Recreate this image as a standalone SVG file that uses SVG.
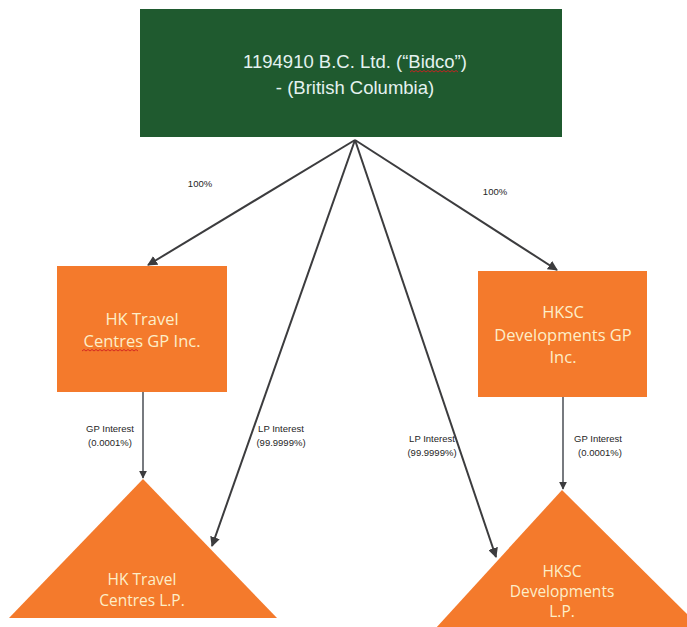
<svg xmlns="http://www.w3.org/2000/svg" width="687" height="627" viewBox="0 0 687 627">
<defs>
<style>
.conn{stroke:#3c3c3e;stroke-width:2;fill:none}
.gp{stroke:#55595f;stroke-width:1.6;fill:none}
.org{fill:#f47a2c}
.ot{font-family:"Open Sans","Liberation Sans",sans-serif;font-size:16.5px;fill:#fdeec8;text-anchor:middle}
.tt{font-size:15.5px}
.gt{font-family:"Liberation Sans",Arial,sans-serif;font-size:18.5px;fill:#e4f2f0;text-anchor:middle}
.lbl{font-family:"Liberation Sans Narrow","Liberation Sans",sans-serif;font-size:9.5px;fill:#262626;text-anchor:middle}
.sq{stroke:#d02020;stroke-width:0.9;fill:none}
</style>
<marker id="ah" viewBox="0 0 10 10" refX="9" refY="5" markerWidth="5" markerHeight="5" orient="auto">
<path d="M0,0 L10,5 L0,10 z" fill="#3c3c3e"/>
</marker>
</defs>
<rect width="687" height="627" fill="#ffffff"/>
<g id="bidco">
<rect x="140" y="9" width="422" height="128" fill="#1f5a2f"/>
<text class="gt" x="355" y="68">1194910 B.C. Ltd. (“Bidco”)</text>
<text class="gt" x="355" y="94">- (British Columbia)</text>
<path class="sq" d="M410,72 l2,-1.5 l2,1.5 l2,-1.5 l2,1.5 l2,-1.5 l2,1.5 l2,-1.5 l2,1.5 l2,-1.5 l2,1.5 l2,-1.5 l2,1.5 l2,-1.5 l2,1.5 l2,-1.5 l2,1.5 l2,-1.5 l2,1.5 l2,-1.5 l2,1.5 l2,-1.5 l2,1.5 l2,-1.5 l2,1.5"/>
</g>
<g id="hk-gp">
<rect class="org" x="57" y="266" width="170" height="126"/>
<text class="ot" x="142" y="325">HK Travel</text>
<text class="ot" x="142" y="347">Centres GP Inc.</text>
<path class="sq" d="M82,351 l2,-1.5 l2,1.5 l2,-1.5 l2,1.5 l2,-1.5 l2,1.5 l2,-1.5 l2,1.5 l2,-1.5 l2,1.5 l2,-1.5 l2,1.5 l2,-1.5 l2,1.5 l2,-1.5 l2,1.5 l2,-1.5 l2,1.5 l2,-1.5 l2,1.5 l2,-1.5 l2,1.5 l2,-1.5 l2,1.5 l2,-1.5 l2,1.5 l2,-1.5 l2,1.5"/>
</g>
<g id="hksc-gp">
<rect class="org" x="478" y="271" width="169" height="126"/>
<text class="ot" x="563" y="318">HKSC</text>
<text class="ot" x="563" y="341">Developments GP</text>
<text class="ot" x="563" y="363">Inc.</text>
</g>
<g id="hk-lp">
<polygon class="org" points="143,479 277,618 9,618"/>
<text class="ot tt" x="142" y="585">HK Travel</text>
<text class="ot tt" x="142" y="606">Centres L.P.</text>
</g>
<g id="hksc-lp">
<polygon class="org" points="562,490 700,627 700,640 425,640"/>
<text class="ot tt" x="562" y="577">HKSC</text>
<text class="ot tt" x="562" y="597">Developments</text>
<text class="ot tt" x="562" y="617">L.P.</text>
</g>
<g id="connectors">
<line class="conn" x1="355" y1="140" x2="148" y2="265" marker-end="url(#ah)"/>
<line class="conn" x1="355" y1="140" x2="557" y2="270" marker-end="url(#ah)"/>
<line class="conn" x1="355" y1="140" x2="212" y2="546" marker-end="url(#ah)"/>
<line class="conn" x1="355" y1="140" x2="496" y2="557" marker-end="url(#ah)"/>
<line class="gp" x1="143" y1="392" x2="143" y2="478" marker-end="url(#ah)"/>
<line class="gp" x1="563" y1="397" x2="563" y2="489" marker-end="url(#ah)"/>
</g>
<g id="labels">
<text class="lbl" x="200" y="187">100%</text>
<text class="lbl" x="495" y="195">100%</text>
<text class="lbl" x="110" y="432">GP Interest</text>
<text class="lbl" x="110" y="446">(0.0001%)</text>
<text class="lbl" x="281" y="432">LP Interest</text>
<text class="lbl" x="281" y="446">(99.9999%)</text>
<text class="lbl" x="432" y="442">LP Interest</text>
<text class="lbl" x="432" y="456">(99.9999%)</text>
<text class="lbl" x="598" y="442">GP Interest</text>
<text class="lbl" x="600" y="456">(0.0001%)</text>
</g>
</svg>
